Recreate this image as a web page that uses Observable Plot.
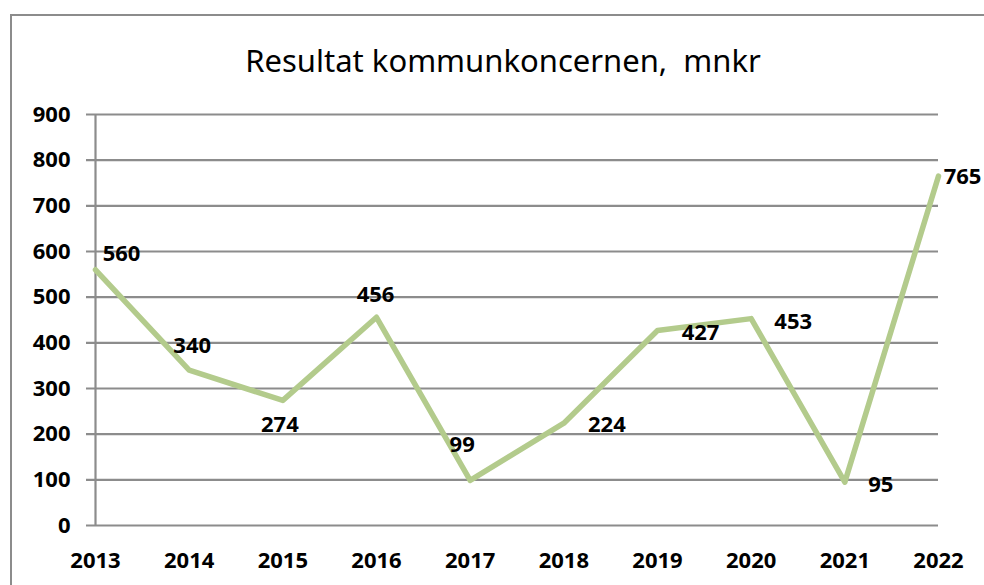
<!DOCTYPE html>
<html>
<head>
<meta charset="utf-8">
<script src="https://cdn.jsdelivr.net/npm/d3@7"></script>
<script src="https://cdn.jsdelivr.net/npm/@observablehq/plot@0.6"></script>
<style>
  html, body { margin: 0; padding: 0; background: #fff; }
  #wrap { position: relative; width: 984px; height: 585px; overflow: hidden; }
  #frame { position: absolute; left: 10px; top: 14px; width: 1000px; height: 620px; border: 2px solid #8c8c8c; box-sizing: border-box; }
  #chart { position: absolute; left: 0; top: 0; }
  svg { overflow: visible; }
</style>
</head>
<body>
<div id="wrap"><div id="frame"></div><div id="chart"></div></div>
<script>
const title = "Resultat kommunkoncernen,  mnkr";
const years = [2013, 2014, 2015, 2016, 2017, 2018, 2019, 2020, 2021, 2022];
const values = [560, 340, 274, 456, 99, 224, 427, 453, 95, 765];
const yTicks = [0, 100, 200, 300, 400, 500, 600, 700, 800, 900];

const data = years.map((year, i) => ({year, value: values[i]}));

// label placement (rendering style, per year)
const labelOffset = {
  2013: [26, -16], 2014: [3, -24], 2015: [-3, 25], 2016: [-1, -22],
  2017: [-8, -35], 2018: [43, 2], 2019: [43, 2], 2020: [42, 3],
  2021: [36, 3], 2022: [24, 1]
};

const font = "'Noto Sans', 'Open Sans', sans-serif";
const green = "#b3cb8c";
const grid = "#8c8c8c";
const fs = 22;

const chart = Plot.plot({
  width: 984,
  height: 585,
  marginLeft: 95,
  marginRight: 46,
  marginTop: 114,
  marginBottom: 60,
  style: {fontFamily: font, background: "transparent", overflow: "visible"},
  x: {domain: [2013, 2022], axis: null},
  y: {domain: [0, 900], axis: null},
  marks: [
    Plot.ruleY(yTicks, {stroke: grid, strokeWidth: 2.2, x1: 2013, x2: 2022, insetLeft: -9}),
    Plot.ruleX([2013], {y1: 0, y2: 900, stroke: grid, strokeWidth: 2.2}),
    Plot.text(yTicks, {x: 2013, y: d => d, text: d => String(d), textAnchor: "end", dx: -25, fontSize: fs, fontWeight: "bold", fill: "#000"}),
    Plot.text(years, {x: d => d, y: 0, text: d => String(d), dy: 35, fontSize: fs, fontWeight: "bold", fill: "#000"}),
    Plot.line(data, {x: "year", y: "value", stroke: green, strokeWidth: 5.5, strokeLinejoin: "round", strokeLinecap: "round"}),
    ...data.map(d => Plot.text([d], {x: "year", y: "value", text: d => String(d.value), dx: labelOffset[d.year][0], dy: labelOffset[d.year][1], fontSize: fs, fontWeight: "bold", fill: "#000"})),
    Plot.text([title], {frameAnchor: "top", dx: -14, dy: -65, fontSize: 31, fill: "#000", fontWeight: "normal"})
  ]
});
document.getElementById("chart").appendChild(chart);
</script>
</body>
</html>
